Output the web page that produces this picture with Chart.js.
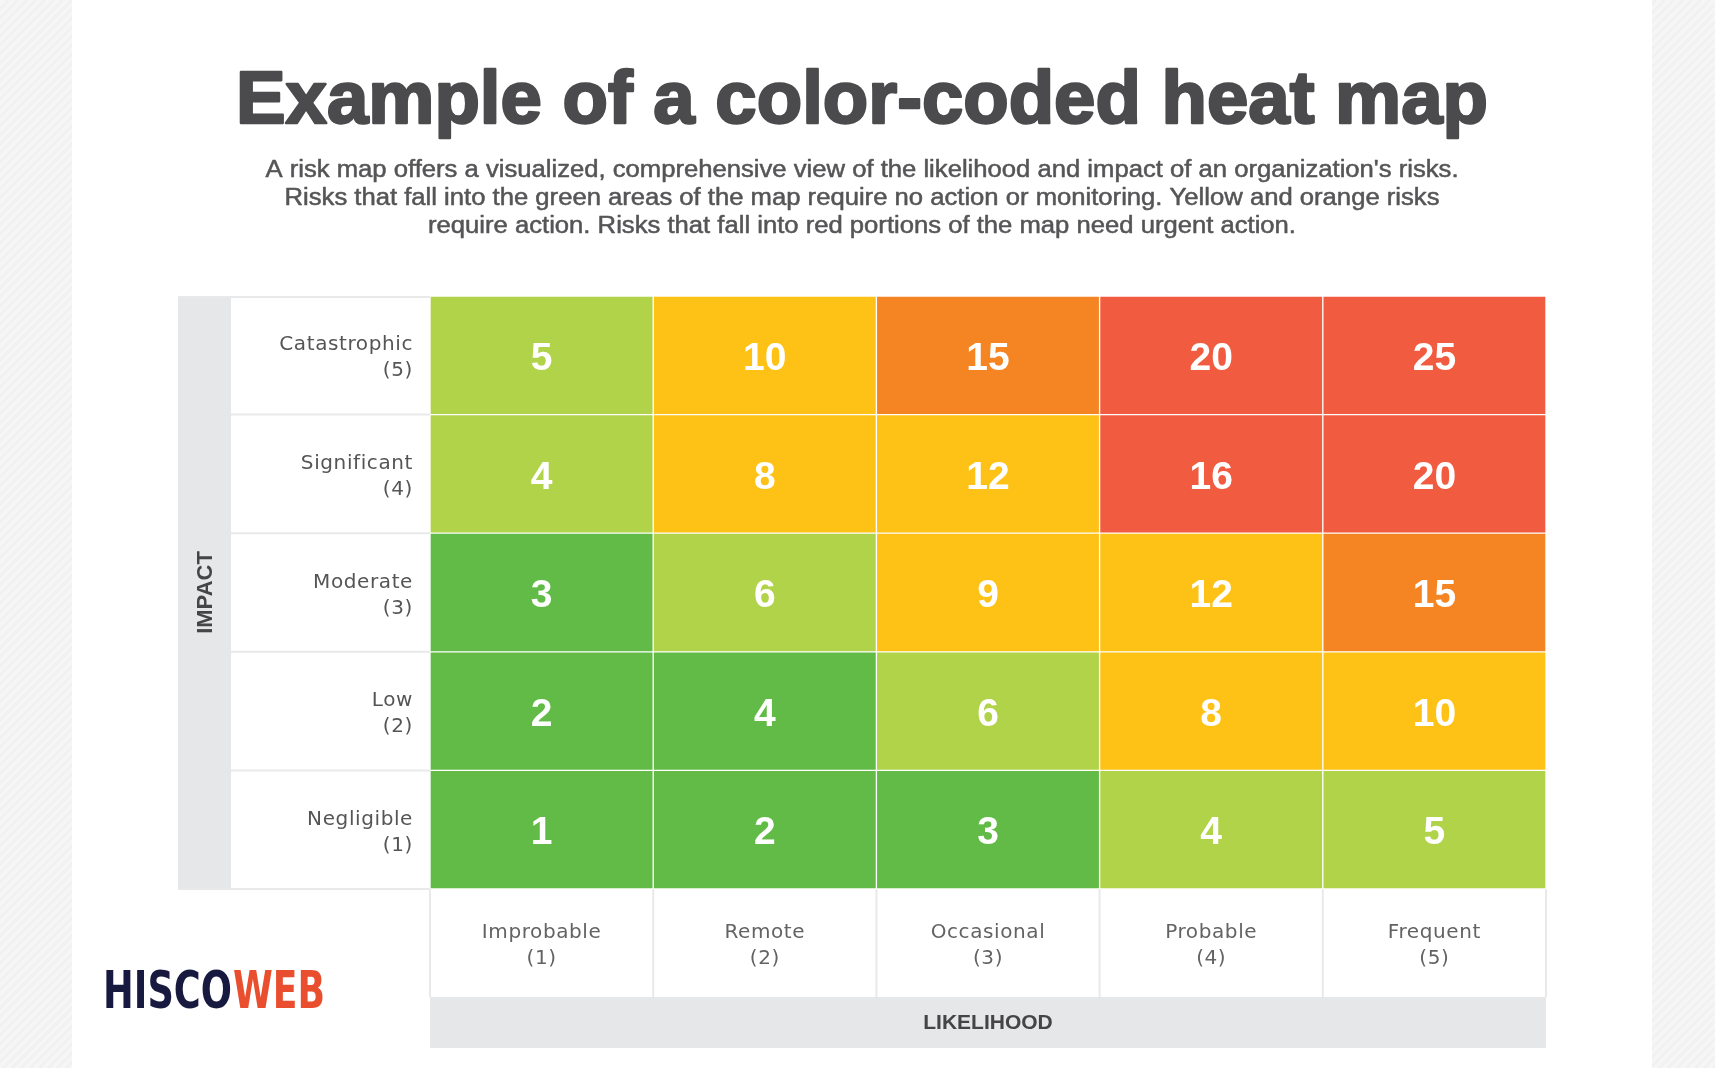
<!DOCTYPE html>
<html>
<head>
<meta charset="utf-8">
<script src="https://cdn.jsdelivr.net/npm/chart.js@4.4.1/dist/chart.umd.min.js"></script>
<style>
  html, body { margin: 0; padding: 0; background: #f6f6f6; }
  canvas { display: block; }
</style>
</head>
<body>
<canvas id="heatMap" width="1715" height="1068"></canvas>
<script>
// likelihood across, impact down (top row first)
const likelihoodLabels = ["Improbable", "Remote", "Occasional", "Probable", "Frequent"];
const likelihoodNums = ["(1)", "(2)", "(3)", "(4)", "(5)"];
const impactLabels = ["Catastrophic", "Significant", "Moderate", "Low", "Negligible"];
const impactNums = ["(5)", "(4)", "(3)", "(2)", "(1)"];

const scoreCatastrophic = [5, 10, 15, 20, 25];
const scoreSignificant = [4, 8, 12, 16, 20];
const scoreModerate = [3, 6, 9, 12, 15];
const scoreLow = [2, 4, 6, 8, 10];
const scoreNegligible = [1, 2, 3, 4, 5];

// risk band of each cell
const bandCatastrophic = ["lightgreen", "yellow", "orange", "red", "red"];
const bandSignificant = ["lightgreen", "yellow", "yellow", "red", "red"];
const bandModerate = ["green", "lightgreen", "yellow", "yellow", "orange"];
const bandLow = ["green", "green", "lightgreen", "yellow", "yellow"];
const bandNegligible = ["green", "green", "green", "lightgreen", "lightgreen"];

const bandColors = {
  green: "#62bb46",
  lightgreen: "#b1d34a",
  yellow: "#fec216",
  orange: "#f58522",
  red: "#f15b40"
};

const scores = [scoreCatastrophic, scoreSignificant, scoreModerate, scoreLow, scoreNegligible];
const bands = [bandCatastrophic, bandSignificant, bandModerate, bandLow, bandNegligible];

const titleText = "Example of a color-coded heat map";
const subtitleLines = [
  "A risk map offers a visualized, comprehensive view of the likelihood and impact of an organization's risks.",
  "Risks that fall into the green areas of the map require no action or monitoring. Yellow and orange risks",
  "require action. Risks that fall into red portions of the map need urgent action."
];

// stacked from the bottom row up, each cell one unit tall
const datasets = impactLabels.slice().reverse().map((name, k) => {
  const row = impactLabels.length - 1 - k;
  return {
    label: name,
    data: likelihoodLabels.map(() => 1),
    scores: scores[row],
    backgroundColor: bands[row].map(b => bandColors[b]),
    borderColor: "rgba(255,255,255,0.38)",
    borderWidth: 1,
    borderSkipped: false,
    barPercentage: 1,
    categoryPercentage: 1
  };
});

function fitText(ctx, text, x, y, width, bold) {
  const w = ctx.measureText(text).width;
  ctx.save();
  ctx.translate(x, y);
  ctx.scale(width / w, 1);
  if (bold) {
    ctx.lineWidth = bold;
    ctx.strokeStyle = ctx.fillStyle;
    ctx.lineJoin = "round";
    ctx.strokeText(text, 0, 0);
  }
  ctx.fillText(text, 0, 0);
  ctx.restore();
}

const decor = {
  id: "decor",
  beforeDraw(chart) {
    const ctx = chart.ctx;
    const W = chart.width, H = chart.height;
    const xs = chart.scales.x, ys = chart.scales.y;
    const area = chart.chartArea;
    ctx.save();
    // page background with faint stripes
    ctx.fillStyle = "#f6f6f6";
    ctx.fillRect(0, 0, W, H);
    ctx.strokeStyle = "rgba(0,0,0,0.018)";
    ctx.lineWidth = 3;
    for (let i = -H; i < W; i += 9) {
      ctx.beginPath();
      ctx.moveTo(i, H);
      ctx.lineTo(i + H, 0);
      ctx.stroke();
    }
    ctx.fillStyle = "#ffffff";
    ctx.fillRect(72, 0, 1580, H);

    // title
    ctx.fillStyle = "#4b4b4d";
    ctx.textAlign = "left";
    ctx.textBaseline = "alphabetic";
    ctx.font = "bold 75px 'Liberation Sans', Arial, sans-serif";
    fitText(ctx, titleText, 862 - 626, 123, 1252, 2.5);

    // subtitle
    ctx.fillStyle = "#555557";
    ctx.font = "23px 'Liberation Sans', Arial, sans-serif";
    const sx = 1193 / ctx.measureText(subtitleLines[0]).width;
    subtitleLines.forEach((line, i) => {
      const w = ctx.measureText(line).width * sx;
      fitText(ctx, line, 862 - w / 2, 177 + i * 28, w, 0.5);
    });

    const top = area.top, bottom = area.bottom;
    // IMPACT band
    ctx.fillStyle = "#e6e7e8";
    ctx.fillRect(178, top, 53, bottom - top);
    // LIKELIHOOD band
    ctx.fillRect(area.left, bottom + 108, area.right - area.left, 51);

    // label column separators
    ctx.strokeStyle = "#e9e9ea";
    ctx.lineWidth = 2;
    ctx.beginPath();
    ctx.moveTo(178, top + 1); ctx.lineTo(area.left, top + 1);
    ctx.moveTo(178, bottom); ctx.lineTo(area.left, bottom);
    for (let r = 1; r < impactLabels.length; r++) {
      const y = ys.getPixelForValue(r);
      ctx.moveTo(231, y); ctx.lineTo(area.left, y);
    }
    // likelihood label cell separators
    const colW = (area.right - area.left) / likelihoodLabels.length;
    for (let c = 0; c <= likelihoodLabels.length; c++) {
      const x = area.left + c * colW;
      ctx.moveTo(x, bottom); ctx.lineTo(x, bottom + 108);
    }
    ctx.stroke();

    // row labels
    ctx.fillStyle = "#555555";
    ctx.font = "20px 'DejaVu Sans', sans-serif";
    ctx.letterSpacing = "0.6px";
    ctx.textAlign = "right";
    impactLabels.forEach((name, i) => {
      const cy = ys.getPixelForValue(impactLabels.length - i - 0.5);
      ctx.fillText(name, 413, cy - 5);
      ctx.fillText(impactNums[i], 413, cy + 21);
    });

    // column labels
    ctx.fillStyle = "#636363";
    ctx.textAlign = "center";
    const labelMid = bottom + 54;
    likelihoodLabels.forEach((name, i) => {
      const cx = xs.getPixelForValue(i);
      ctx.fillText(name, cx, labelMid - 5);
      ctx.fillText(likelihoodNums[i], cx, labelMid + 21);
    });
    ctx.letterSpacing = "0px";

    // axis names
    ctx.fillStyle = "#454547";
    ctx.font = "bold 21px 'Liberation Sans', Arial, sans-serif";
    ctx.textBaseline = "middle";
    ctx.fillText("LIKELIHOOD", (area.left + area.right) / 2, bottom + 134);
    ctx.save();
    ctx.translate(205, (top + bottom) / 2);
    ctx.rotate(-Math.PI / 2);
    ctx.font = "bold 22px 'Liberation Sans', Arial, sans-serif";
    ctx.fillText("IMPACT", 0, 1);
    ctx.restore();

    // logo
    ctx.textAlign = "left";
    ctx.textBaseline = "alphabetic";
    ctx.font = "bold 52px 'DejaVu Sans', sans-serif";
    ctx.fillStyle = "#17193f";
    fitText(ctx, "HISCO", 103, 1008, 129);
    ctx.fillStyle = "#e94f2e";
    fitText(ctx, "WEB", 233, 1008, 92);
    ctx.restore();
  },
  afterDatasetsDraw(chart) {
    const ctx = chart.ctx;
    ctx.save();
    ctx.fillStyle = "#ffffff";
    ctx.font = "bold 39px 'Liberation Sans', Arial, sans-serif";
    ctx.textAlign = "center";
    ctx.textBaseline = "middle";
    chart.data.datasets.forEach((ds, d) => {
      const meta = chart.getDatasetMeta(d);
      meta.data.forEach((bar, i) => {
        const cy = (bar.y + bar.base) / 2;
        ctx.fillText(String(ds.scores[i]), bar.x, cy + 4);
      });
    });
    ctx.restore();
  }
};

new Chart(document.getElementById("heatMap").getContext("2d"), {
  type: "bar",
  data: {
    labels: likelihoodLabels,
    datasets: datasets
  },
  options: {
    responsive: false,
    animation: false,
    layout: {
      padding: { left: 430, right: 169, top: 296, bottom: 179 }
    },
    plugins: {
      legend: { display: false },
      title: { display: false },
      tooltip: { enabled: false }
    },
    scales: {
      x: {
        stacked: true,
        display: false,
        grid: { display: false }
      },
      y: {
        stacked: true,
        display: false,
        min: 0,
        max: 5,
        grid: { display: false }
      }
    }
  },
  plugins: [decor]
});
</script>
</body>
</html>
